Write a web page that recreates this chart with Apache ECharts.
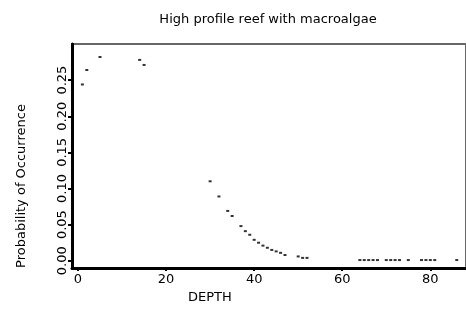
<!DOCTYPE html>
<html>
<head>
<meta charset="utf-8">
<script src="https://cdn.jsdelivr.net/npm/echarts@6/dist/echarts.min.js"></script>
<style>
  html, body { margin: 0; padding: 0; background: #fff; }
  #chart { width: 466px; height: 314px; }
</style>
</head>
<body>
<div id="chart"></div>
<script type="text/javascript">
    // depth vs probability
    var depth = [1, 2, 5, 14, 15,
        30, 32, 34, 35, 37, 38, 39, 40, 41, 42, 43, 44, 45, 46, 47, 50, 51, 52,
        64, 65, 66, 67, 68, 70, 71, 72, 73, 75, 78, 79, 80, 81, 86];
    var prob = [0.244, 0.264, 0.282, 0.278, 0.271,
        0.110, 0.089, 0.069, 0.062, 0.048, 0.041, 0.036, 0.029, 0.025, 0.021, 0.018, 0.015, 0.013, 0.011, 0.008, 0.006, 0.004, 0.004,
        0.001, 0.001, 0.001, 0.001, 0.001, 0.001, 0.001, 0.001, 0.001, 0.001, 0.001, 0.001, 0.001, 0.001, 0.001];
    var xTicks = [0, 20, 40, 60, 80];
    var yTicks = [0, 0.05, 0.10, 0.15, 0.20, 0.25];

    var points = [];
    for (var i = 0; i < depth.length; i++) {
        points.push([depth[i], prob[i]]);
    }

    var font = 'DejaVu Sans, sans-serif';
    var chart = echarts.init(document.getElementById('chart'));

    var option = {
        animation: false,
        backgroundColor: '#fff',
        title: {
            text: 'High profile reef with macroalgae',
            left: 263,
            top: 8,
            textAlign: 'center',
            textStyle: { fontFamily: font, fontSize: 13, fontWeight: 'normal', color: '#000' }
        },
        grid: {
            left: 72, right: -2, top: 44, bottom: 46,
            show: true, borderColor: '#666', borderWidth: 2
        },
        xAxis: {
            type: 'value',
            min: -1.36,
            max: 88.1,
            splitLine: { show: false },
            axisLine: { onZero: false, lineStyle: { color: '#000', width: 3 } },
            axisTick: { customValues: xTicks, length: 3, lineStyle: { color: '#000', width: 2 } },
            axisLabel: {
                customValues: xTicks,
                fontFamily: font, fontSize: 13, color: '#000', margin: 5
            }
        },
        yAxis: {
            type: 'value',
            min: -0.01,
            max: 0.30,
            splitLine: { show: false },
            axisLine: { onZero: false, lineStyle: { color: '#000', width: 3 } },
            axisTick: { customValues: yTicks, length: 4, lineStyle: { color: '#000', width: 2 } },
            axisLabel: {
                customValues: yTicks,
                rotate: 90,
                fontFamily: font, fontSize: 13, color: '#000', margin: 3,
                formatter: function (v) { return v.toFixed(2); }
            }
        },
        graphic: [{
            type: 'text',
            left: 188, top: 291,
            style: { text: 'DEPTH', font: '13px DejaVu Sans', fill: '#000' }
        }, {
            type: 'text',
            x: 22, y: 186,
            rotation: Math.PI / 2,
            style: { text: 'Probability of Occurrence', font: '13px DejaVu Sans', fill: '#000', align: 'center', verticalAlign: 'middle' }
        }],
        series: [{
            type: 'scatter',
            data: points,
            symbol: 'rect',
            symbolSize: [3, 2],
            itemStyle: { color: '#000' }
        }]
    };

    chart.setOption(option);
</script>
</body>
</html>
